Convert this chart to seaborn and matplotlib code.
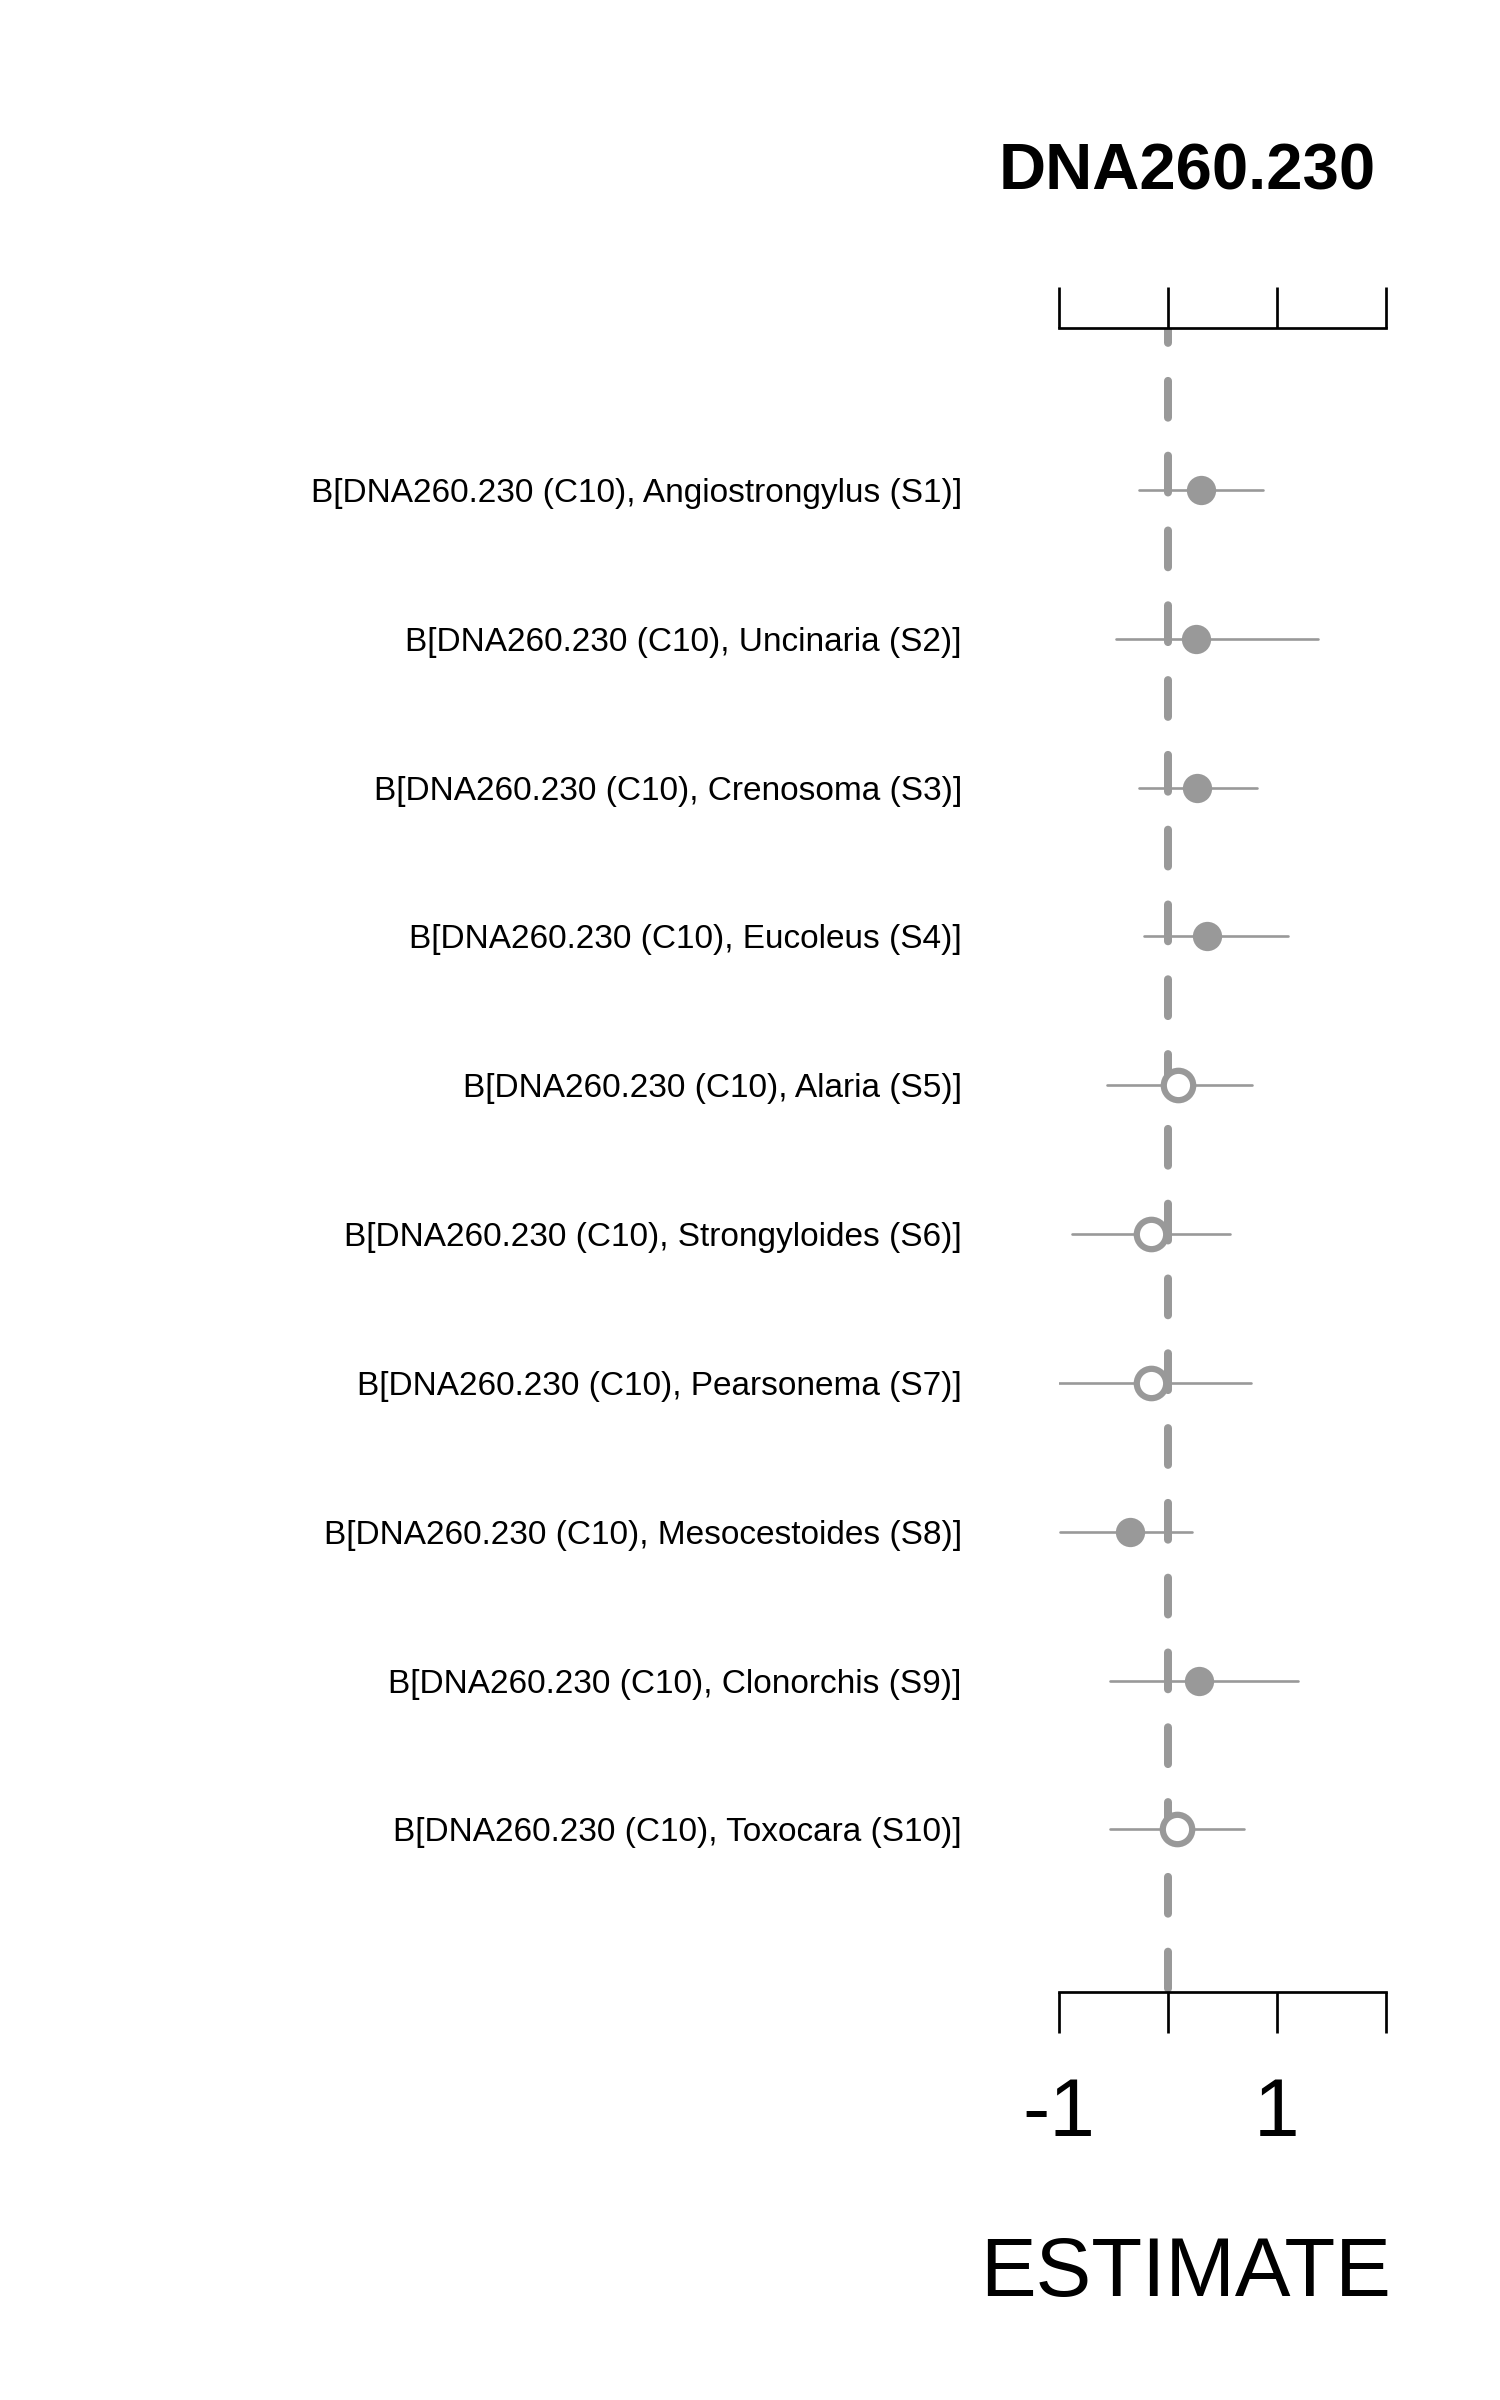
import numpy as np
import pandas as pd
import matplotlib
matplotlib.use("Agg")
import matplotlib.pyplot as plt
import seaborn as sns

# ---------------------------------------------------------------------------
# data
# ---------------------------------------------------------------------------
taxa = ["Angiostrongylus", "Uncinaria", "Crenosoma", "Eucoleus", "Alaria",
        "Strongyloides", "Pearsonema", "Mesocestoides", "Clonorchis", "Toxocara"]
labels = [f"B[DNA260.230 (C10), {t} (S{i + 1})]" for i, t in enumerate(taxa)]
estimate = [0.30, 0.26, 0.27, 0.36, 0.09, -0.16, -0.16, -0.35, 0.28, 0.08]
ci_low = [-0.27, -0.48, -0.27, -0.22, -0.56, -0.88, -1.04, -0.99, -0.53, -0.53]
ci_high = [0.87, 1.38, 0.82, 1.10, 0.77, 0.57, 0.76, 0.22, 1.19, 0.70]
filled = [True, True, True, True, False, False, False, True, True, False]

x_ticks = [-1, 0, 1, 2]
x_ticklabels = ["-1", "", "1", ""]
title = "DNA260.230"
x_title = "ESTIMATE"

GREY = "#999999"

df = pd.DataFrame({
    "label": labels,
    "pos": np.arange(len(labels)),
    "est": estimate,
    "lo": ci_low,
    "hi": ci_high,
    "filled": filled,
})

sns.set_theme(style="white")
plt.rcParams["font.family"] = ["Liberation Sans", "DejaVu Sans"]
plt.rcParams.update({"text.color": "black", "xtick.color": "black",
                     "ytick.color": "black", "axes.labelcolor": "black"})

fig = plt.figure(figsize=(15, 24), dpi=100)
ax = fig.add_axes([1059 / 1500, 1 - 1991.7 / 2400, 327 / 1500, (1991.7 - 327.7) / 2400])

# CI whiskers
ax.hlines(df["pos"], df["lo"], df["hi"], color=GREY, linewidth=1.9,
          capstyle="round", zorder=1)

# reference line at zero
ax.plot([0, 0], [-1.09, len(df) - 1 + 1.09], color=GREY, linewidth=5.76,
        linestyle=(2.74, (4.6, 4.75)), dash_capstyle="round", zorder=2)

# point estimates: filled vs open
sns.scatterplot(data=df[df["filled"]], x="est", y="pos", color=GREY, s=445,
                linewidth=0, zorder=3, ax=ax, legend=False)
sns.scatterplot(data=df[~df["filled"]], x="est", y="pos", color="white", s=448,
                edgecolor=GREY, linewidth=4.5, zorder=3, ax=ax, legend=False)

ax.set_xlim(-1, 2)
ax.set_ylim(len(df) - 1 + 1.09, -1.09)

for side in ["left", "right"]:
    ax.spines[side].set_visible(False)
for side in ["top", "bottom"]:
    ax.spines[side].set_color("black")
    ax.spines[side].set_linewidth(1.95)

ax.set_xticks(x_ticks)
ax.set_xticklabels(x_ticklabels, fontsize=59, color="black")
ax.tick_params(axis="x", which="both", top=True, bottom=True, direction="out",
               length=29.5, width=1.95, color="black", pad=32, labeltop=False)

ax.set_yticks(df["pos"])
ax.set_yticklabels(df["label"], fontsize=24, color="black")
ax.tick_params(axis="y", length=0, pad=70)

ax.set_xlabel("")
ax.set_ylabel("")
ax.grid(False)

fig.text(1187 / 1500, 1 - 189.3 / 2400, title, ha="center", va="baseline",
         fontsize=47, fontweight="bold", color="black")
fig.text(1185.5 / 1500, 1 - 2296 / 2400, x_title, ha="center", va="baseline",
         fontsize=60, color="black")

fig.savefig("out.png", dpi=100, facecolor="white")
